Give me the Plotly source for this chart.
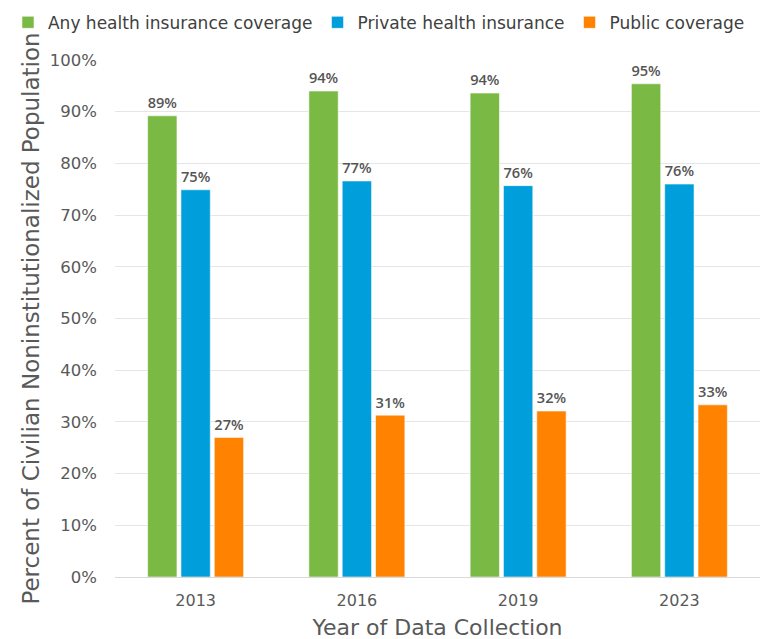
import plotly.graph_objects as go

years = ["2013", "2016", "2019", "2023"]
any_cov = [89.2, 94.0, 93.6, 95.4]
private_cov = [74.9, 76.6, 75.7, 76.0]
public_cov = [27.0, 31.3, 32.1, 33.3]
any_labels = ["89%", "94%", "94%", "95%"]
private_labels = ["75%", "77%", "76%", "76%"]
public_labels = ["27%", "31%", "32%", "33%"]

series = [
    ("Any health insurance coverage", any_cov, any_labels, "#7AB943"),
    ("Private health insurance", private_cov, private_labels, "#009FDC"),
    ("Public coverage", public_cov, public_labels, "#FF8200"),
]

FONT = "DejaVu Sans"
LABEL_FONT = "Open Sans"
GRAY = "#595959"

fig = go.Figure()
for name, vals, labels, color in series:
    fig.add_trace(go.Bar(
        x=years, y=vals, name=name,
        text=labels, textposition="outside", cliponaxis=False,
        textfont=dict(family=LABEL_FONT, size=19, color="#555555", weight=600),
        marker=dict(color=color, line=dict(color="rgba(255,255,255,0.55)", width=1)),
        hoverinfo="skip",
    ))

fig.update_layout(
    width=770, height=639,
    margin=dict(l=107, r=18, t=52, b=70, autoexpand=False),
    paper_bgcolor="white", plot_bgcolor="white",
    barmode="group", bargap=0.38, bargroupgap=0.12,
    font=dict(family=FONT, size=16, color=GRAY),
    showlegend=True,
    legend=dict(orientation="h", x=-0.1659, xanchor="left", y=1.072, yanchor="middle",
                font=dict(family=FONT, size=17, color="#404040"),
                itemwidth=30, tracegroupgap=0),
    xaxis=dict(
        title=dict(text="Year of Data Collection", font=dict(family=FONT, size=22, color=GRAY), standoff=10),
        tickfont=dict(family=FONT, size=16, color=GRAY),
        showline=True, linecolor="#D9D9D9", linewidth=1, ticks="", ticklabelstandoff=9,
    ),
    yaxis=dict(
        title=dict(text="Percent of Civilian Noninstitutionalized Population", font=dict(family=FONT, size=23, color=GRAY), standoff=3),
        range=[0, 100], dtick=10, ticksuffix="%",
        tickfont=dict(family=FONT, size=16.5, color=GRAY),
        showgrid=True, gridcolor="#E6E6E6", gridwidth=1,
        zeroline=False, ticks="", ticklabelstandoff=17,
    ),
)

fig.write_html("out.html")
